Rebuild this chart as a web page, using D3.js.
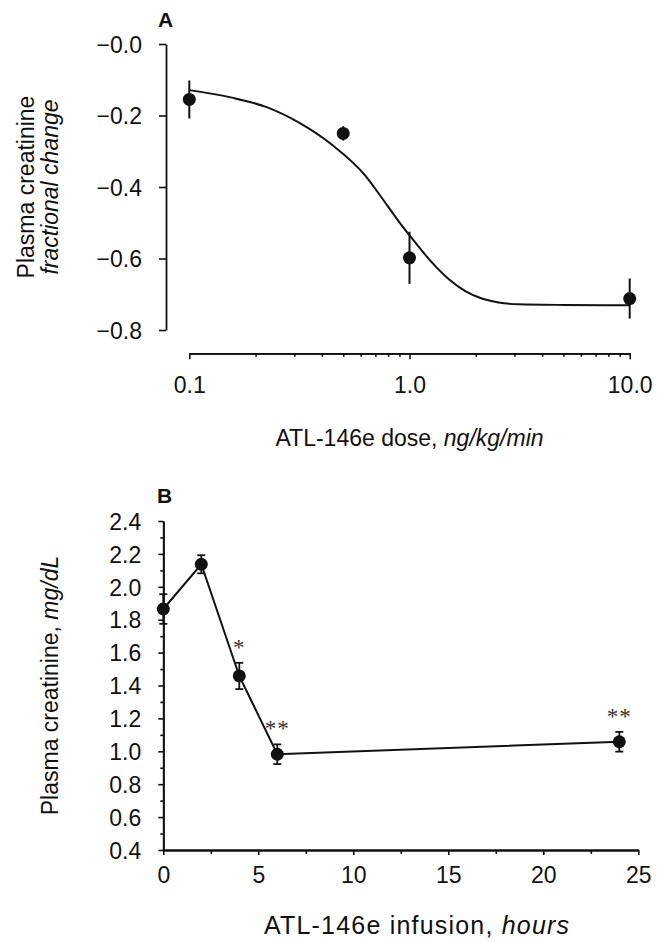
<!DOCTYPE html>
<html>
<head>
<meta charset="utf-8">
<script src="https://cdn.jsdelivr.net/npm/d3@7"></script>
<style>
  body { margin: 0; background: #fff; }
  svg { display: block; font-family: "Liberation Sans", Arial, Helvetica, sans-serif; }
</style>
</head>
<body>
<svg id="chart" width="668" height="942"></svg>
<script>
// ---- Panel A: dose response (log dose) ----
const doses = [0.1, 0.5, 1.0, 10.0];
const doseMeans = [-0.155, -0.250, -0.598, -0.712];
const doseErrors = [0.053, 0.020, 0.073, 0.056];
// fitted dose-response curve
const fitDoses = [0.1, 0.156, 0.223, 0.315, 0.445, 0.634, 0.748, 0.893, 1.0, 1.26, 1.51, 1.80, 2.13, 2.54, 3.13, 5.12, 10];
const fitValues = [-0.129, -0.150, -0.176, -0.220, -0.282, -0.370, -0.430, -0.496, -0.535, -0.610, -0.658, -0.692, -0.712, -0.723, -0.728, -0.730, -0.731];
const doseTicks = [0.1, 1, 10];
const doseTickLabels = ["0.1", "1.0", "10.0"];
const doseMinorTicks = [0.2, 0.3, 0.4, 0.5, 0.6, 0.7, 0.8, 0.9, 2, 3, 4, 5, 6, 7, 8, 9];
const fracTicks = [0, -0.2, -0.4, -0.6, -0.8];
const fracTickLabels = ["\u22120.0", "\u22120.2", "\u22120.4", "\u22120.6", "\u22120.8"];

// ---- Panel B: time course ----
const hours = [0, 2, 4, 6, 24];
const creatinine = [1.865, 2.137, 1.458, 0.982, 1.058];
const creatinineErrors = [0.09, 0.055, 0.08, 0.06, 0.06];
const significance = ["", "", "*", "**", "**"];
const hourTicks = [0, 5, 10, 15, 20, 25];
const hourMinorTicks = [2.5, 7.5, 12.5, 17.5, 22.5];
const concTicks = [0.4, 0.6, 0.8, 1.0, 1.2, 1.4, 1.6, 1.8, 2.0, 2.2, 2.4];
const concMinorTicks = [0.5, 0.7, 0.9, 1.1, 1.3, 1.5, 1.7, 1.9, 2.1, 2.3];

const ink = "#111";
const fontSize = 23;
const svg = d3.select("#chart");

function styleAxis(g) {
  g.select(".domain").attr("stroke", ink).attr("stroke-width", 1.8);
  g.selectAll(".tick line").attr("stroke", ink).attr("stroke-width", 1.6);
  g.selectAll(".tick text").attr("fill", ink).attr("font-size", fontSize).attr("font-family", null);
}

// ================= Panel A =================
const xA = d3.scaleLog().domain([0.1, 10]).range([189.3, 629.7]);
const yA = d3.scaleLinear().domain([0, -0.8]).range([44, 330]);
const axisAy = 353.3, axisAx = 166;

svg.append("g")
  .attr("transform", `translate(${axisAx},0)`)
  .call(d3.axisLeft(yA).tickValues(fracTicks).tickFormat((d, i) => fracTickLabels[i]).tickSize(7).tickSizeOuter(0).tickPadding(17))
  .call(styleAxis)
  .call(g => g.selectAll(".tick text").attr("dy", "0.36em"));

svg.append("g")
  .attr("transform", `translate(0,${axisAy})`)
  .call(d3.axisBottom(xA).tickValues(doseMinorTicks).tickFormat("").tickSize(3.5).tickSizeOuter(0))
  .call(styleAxis);

svg.append("g")
  .attr("transform", `translate(0,${axisAy})`)
  .call(d3.axisBottom(xA).tickValues(doseTicks).tickFormat((d, i) => doseTickLabels[i]).tickSize(6).tickSizeOuter(0))
  .call(styleAxis)
  .call(g => g.selectAll(".tick text").attr("y", 40).attr("dy", 0));

// fitted curve
svg.append("path")
  .datum(fitDoses.map((d, i) => [d, fitValues[i]]))
  .attr("fill", "none")
  .attr("stroke", ink)
  .attr("stroke-width", 2)
  .attr("d", d3.line().x(d => xA(d[0])).y(d => yA(d[1])).curve(d3.curveMonotoneX));

// error bars (no caps)
svg.append("g").selectAll("line")
  .data(doses)
  .join("line")
  .attr("x1", d => xA(d)).attr("x2", d => xA(d))
  .attr("y1", (d, i) => yA(doseMeans[i] + doseErrors[i]))
  .attr("y2", (d, i) => yA(doseMeans[i] - doseErrors[i]))
  .attr("stroke", ink).attr("stroke-width", 2);

svg.append("g").selectAll("circle")
  .data(doses)
  .join("circle")
  .attr("cx", d => xA(d))
  .attr("cy", (d, i) => yA(doseMeans[i]))
  .attr("r", 6.5)
  .attr("fill", ink);

// labels
svg.append("text").attr("x", 158).attr("y", 27).attr("font-size", 21).attr("font-weight", "bold").attr("fill", ink).text("A");

const yLabA = svg.append("text")
  .attr("transform", `translate(0,${(44 + 330) / 2}) rotate(-90)`)
  .attr("text-anchor", "middle").attr("font-size", fontSize).attr("fill", ink);
yLabA.append("tspan").attr("x", 0).attr("y", 34).text("Plasma creatinine");
yLabA.append("tspan").attr("x", 0).attr("y", 58).attr("font-style", "italic").text("fractional change");

const xLabA = svg.append("text")
  .attr("x", (xA.range()[0] + xA.range()[1]) / 2).attr("y", 446)
  .attr("text-anchor", "middle").attr("font-size", fontSize).attr("fill", ink);
xLabA.append("tspan").text("ATL-146e dose, ");
xLabA.append("tspan").attr("font-style", "italic").text("ng/kg/min");

// ================= Panel B =================
const xB = d3.scaleLinear().domain([0, 25]).range([163.3, 638.3]);
const yB = d3.scaleLinear().domain([0.4, 2.4]).range([850, 521]);

svg.append("g")
  .attr("transform", `translate(${xB(0)},0)`)
  .call(d3.axisLeft(yB).tickValues(concMinorTicks).tickFormat("").tickSize(3).tickSizeOuter(0))
  .call(styleAxis);

svg.append("g")
  .attr("transform", `translate(${xB(0)},0)`)
  .call(d3.axisLeft(yB).tickValues(concTicks).tickFormat(d3.format(".1f")).tickSize(5).tickSizeOuter(0).tickPadding(17))
  .call(styleAxis)
  .call(g => g.selectAll(".tick text").attr("dy", "0.36em"));

svg.append("g")
  .attr("transform", `translate(0,${yB(0.4)})`)
  .call(d3.axisBottom(xB).tickValues(hourMinorTicks).tickFormat("").tickSize(4).tickSizeOuter(0))
  .call(styleAxis);

svg.append("g")
  .attr("transform", `translate(0,${yB(0.4)})`)
  .call(d3.axisBottom(xB).tickValues(hourTicks).tickFormat(d3.format("d")).tickSize(5).tickSizeOuter(0))
  .call(styleAxis)
  .call(g => g.selectAll(".tick text").attr("y", 33).attr("dy", 0));

// connecting line
svg.append("path")
  .datum(hours.map((h, i) => [h, creatinine[i]]))
  .attr("fill", "none")
  .attr("stroke", ink)
  .attr("stroke-width", 2)
  .attr("d", d3.line().x(d => xB(d[0])).y(d => yB(d[1])));

// error bars with caps
const errB = svg.append("g").selectAll("g")
  .data(hours)
  .join("g")
  .attr("stroke", ink).attr("stroke-width", 1.8);
errB.append("line")
  .attr("x1", d => xB(d)).attr("x2", d => xB(d))
  .attr("y1", (d, i) => yB(creatinine[i] + creatinineErrors[i]))
  .attr("y2", (d, i) => yB(creatinine[i] - creatinineErrors[i]));
errB.append("line")
  .attr("x1", d => xB(d) - 4).attr("x2", d => xB(d) + 4)
  .attr("y1", (d, i) => yB(creatinine[i] + creatinineErrors[i]))
  .attr("y2", (d, i) => yB(creatinine[i] + creatinineErrors[i]));
errB.append("line")
  .attr("x1", d => xB(d) - 4).attr("x2", d => xB(d) + 4)
  .attr("y1", (d, i) => yB(creatinine[i] - creatinineErrors[i]))
  .attr("y2", (d, i) => yB(creatinine[i] - creatinineErrors[i]));

svg.append("g").selectAll("circle")
  .data(hours)
  .join("circle")
  .attr("cx", d => xB(d))
  .attr("cy", (d, i) => yB(creatinine[i]))
  .attr("r", 6.5)
  .attr("fill", ink);

// significance markers above the upper error bars
svg.append("g").selectAll("text")
  .data(hours)
  .join("text")
  .attr("x", d => xB(d))
  .attr("y", (d, i) => yB(creatinine[i] + creatinineErrors[i]) - 8)
  .attr("text-anchor", "middle")
  .attr("font-family", "'Liberation Serif', 'Times New Roman', serif")
  .attr("font-size", 23)
  .attr("letter-spacing", 1)
  .attr("fill", "#333")
  .text((d, i) => significance[i]);

svg.append("text").attr("x", 157).attr("y", 503).attr("font-size", 21).attr("font-weight", "bold").attr("fill", ink).text("B");

const yLabB = svg.append("text")
  .attr("transform", `translate(0,${(521 + 850) / 2}) rotate(-90)`)
  .attr("text-anchor", "middle").attr("font-size", fontSize).attr("fill", ink);
yLabB.append("tspan").attr("y", 58).text("Plasma creatinine, ");
yLabB.append("tspan").attr("font-style", "italic").text("mg/dL");

const xLabB = svg.append("text")
  .attr("x", 264).attr("y", 934)
  .attr("font-size", 25).attr("letter-spacing", 1.2).attr("fill", ink);
xLabB.append("tspan").text("ATL-146e infusion, ");
xLabB.append("tspan").attr("font-style", "italic").text("hours");
</script>
</body>
</html>
